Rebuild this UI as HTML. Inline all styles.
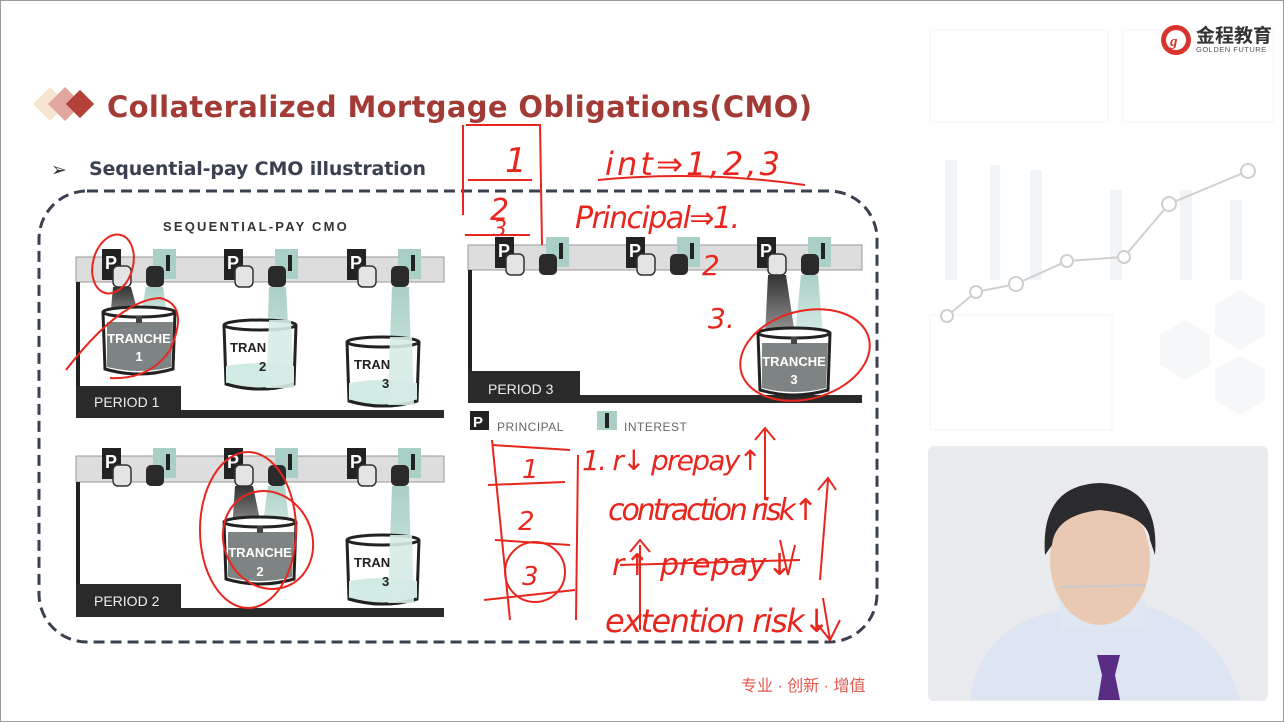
<!DOCTYPE html>
<html><head><meta charset="utf-8"><style>
html,body{margin:0;padding:0;background:#fff}
body{width:1284px;height:722px;overflow:hidden;position:relative;font-family:"Liberation Sans",sans-serif}
</style></head><body>
<svg width="1284" height="722" viewBox="0 0 1284 722" xmlns="http://www.w3.org/2000/svg" style="position:absolute;left:0;top:0">
<defs>
<linearGradient id="gbeam" x1="0" y1="0" x2="0" y2="1"><stop offset="0" stop-color="#333"/><stop offset="1" stop-color="#999"/></linearGradient>
<linearGradient id="tbeam" x1="0" y1="0" x2="0" y2="1"><stop offset="0" stop-color="#a9cfc6"/><stop offset="1" stop-color="#d6ebe6"/></linearGradient>
<g id="taps">
  <rect x="0" y="0" width="19" height="31" fill="#222"/>
  <text x="3" y="20" font-family="Liberation Sans" font-weight="bold" font-size="18" fill="#fff">P</text>
  <rect x="51" y="0" width="23" height="30" fill="#a9cfc6"/>
  <rect x="64" y="6" width="4" height="16" fill="#222"/>
  <rect x="11" y="17" width="18" height="21" rx="5" fill="#e4e4e4" stroke="#333" stroke-width="1.5"/>
  <rect x="44" y="17" width="18" height="21" rx="5" fill="#2a2a2a"/>
</g>
<g id="bempty">
  <path d="M0,5 L2,64 Q36,74 70,64 L72,5" fill="#fff" stroke="#222" stroke-width="3"/>
  <path d="M2,46 Q36,40 70,46 L70,64 Q36,73 2,64Z" fill="#d3ebe5"/>
  <ellipse cx="36" cy="5" rx="36" ry="5" fill="#fff" stroke="#222" stroke-width="3"/>
  <path d="M2,64 Q36,74 70,64" fill="none" stroke="#222" stroke-width="3"/>
</g>
<g id="bfull">
  <path d="M0,5 L2,62 Q36,72 70,62 L72,5" fill="#fff" stroke="#222" stroke-width="3"/>
  <path d="M4,15 L70,15 L68,60 Q36,68 4,60Z" fill="#7e8484"/>
  <ellipse cx="36" cy="5" rx="36" ry="5" fill="#fff" stroke="#222" stroke-width="3"/>
  <rect x="33" y="9" width="6" height="7" fill="#444"/>
</g>
</defs>

<rect x="0.5" y="0.5" width="1283" height="721" fill="none" stroke="#9a9a9a"/>

<g opacity="0.55">
  <rect x="930" y="30" width="178" height="92" fill="none" stroke="#eee"/>
  <rect x="1123" y="30" width="150" height="92" fill="none" stroke="#eee"/>
  <rect x="930" y="315" width="182" height="115" fill="none" stroke="#eee"/>
  <rect x="945" y="160" width="12" height="120" fill="#e6eef3"/>
  <rect x="990" y="165" width="10" height="115" fill="#e6eef3"/>
  <rect x="1030" y="170" width="12" height="110" fill="#e6eef3"/>
  <rect x="1110" y="190" width="12" height="90" fill="#e6eef3"/>
  <rect x="1180" y="190" width="12" height="90" fill="#e6eef3"/>
  <rect x="1230" y="200" width="12" height="80" fill="#e6eef3"/>
  <polygon points="1160,335 1185,320 1210,335 1210,365 1185,380 1160,365" fill="#eef2f4"/>
  <polygon points="1215,305 1240,290 1265,305 1265,335 1240,350 1215,335" fill="#eef2f4"/>
  <polygon points="1215,370 1240,355 1265,370 1265,400 1240,415 1215,400" fill="#eef2f4"/>
</g>
<polyline points="947,316 976,292 1016,284 1067,261 1124,257 1169,204 1248,171" fill="none" stroke="#d0d0d0" stroke-width="2"/>
<g fill="#fff" stroke="#cfcfcf" stroke-width="2">
<circle cx="947" cy="316" r="6"/><circle cx="976" cy="292" r="6"/><circle cx="1016" cy="284" r="7"/><circle cx="1067" cy="261" r="6"/><circle cx="1124" cy="257" r="6"/><circle cx="1169" cy="204" r="7"/><circle cx="1248" cy="171" r="7"/>
</g>

<circle cx="1176" cy="40" r="15" fill="#d9332c"/>
<circle cx="1176" cy="40" r="10" fill="#fff"/>
<text x="1170" y="46" font-size="15" font-style="italic" font-weight="bold" fill="#d9332c" font-family="Liberation Serif">g</text>
<text x="1196" y="42" font-family="Liberation Sans,Noto Sans CJK SC,sans-serif" font-weight="bold" font-size="19" fill="#333">金程教育</text>
<text x="1196" y="52" font-size="7.5" fill="#555" letter-spacing="0.5">GOLDEN FUTURE</text>

<rect x="38" y="92" width="24" height="24" fill="#f6e5d0" transform="rotate(45 50 104)"/>
<rect x="53" y="92" width="24" height="24" fill="#e2a79c" transform="rotate(45 65 104)"/>
<rect x="70" y="94" width="20" height="20" fill="#b4403a" transform="rotate(45 80 104)"/>
<text x="107" y="117" font-family="DejaVu Sans,sans-serif" font-weight="bold" font-size="29" fill="#a23a36" textLength="705">Collateralized Mortgage Obligations(CMO)</text>
<text x="51" y="176" font-size="19" fill="#333">➢</text>
<text x="89" y="175" font-family="DejaVu Sans,sans-serif" font-weight="bold" font-size="19" fill="#3a4050" textLength="337">Sequential-pay CMO illustration</text>

<rect x="39" y="191" width="838" height="451" rx="48" fill="none" stroke="#3a4050" stroke-width="3" stroke-dasharray="11,6"/>

<rect x="70" y="205" width="380" height="415" fill="#fff"/>
<text x="163" y="231" font-weight="bold" font-size="13" fill="#333" letter-spacing="2.2">SEQUENTIAL-PAY CMO</text>

<!-- Period 1 -->
<rect x="76" y="257" width="368" height="25" fill="#ddd" stroke="#999"/>
<rect x="76" y="282" width="4" height="130" fill="#222"/>
<rect x="76" y="410" width="368" height="8" fill="#2a2a2a"/>
<rect x="76" y="386" width="105" height="32" fill="#2a2a2a"/>
<text x="94" y="407" font-size="14" fill="#eee">PERIOD 1</text>
<polygon points="113,287 131,287 140,320 110,320" fill="url(#gbeam)"/>
<polygon points="146,287 163,287 168,320 140,320" fill="url(#tbeam)"/>
<polygon points="269,287 286,287 291,380 266,380" fill="url(#tbeam)"/>
<polygon points="392,287 409,287 412,395 388,395" fill="url(#tbeam)"/>
<use href="#bfull" x="103" y="307"/>
<text x="139" y="343" text-anchor="middle" font-weight="bold" font-size="13" fill="#fff">TRANCHE</text>
<text x="139" y="361" text-anchor="middle" font-weight="bold" font-size="13" fill="#fff">1</text>
<use href="#bempty" x="224" y="320"/>
<polygon points="269,320 291,320 294,388 266,388" fill="#d6ebe6" opacity="0.9"/>
<text x="230" y="352" font-weight="bold" font-size="13" fill="#222">TRAN</text>
<text x="259" y="371" font-weight="bold" font-size="13" fill="#222">2</text>
<use href="#bempty" x="347" y="337"/>
<polygon points="390,337 412,337 414,405 388,405" fill="#d6ebe6" opacity="0.9"/>
<text x="354" y="369" font-weight="bold" font-size="13" fill="#222">TRAN</text>
<text x="382" y="388" font-weight="bold" font-size="13" fill="#222">3</text>
<use href="#taps" x="102" y="249"/>
<use href="#taps" x="224" y="249"/>
<use href="#taps" x="347" y="249"/>

<!-- Period 2 -->
<rect x="76" y="456" width="368" height="26" fill="#ddd" stroke="#999"/>
<rect x="76" y="482" width="4" height="130" fill="#222"/>
<rect x="76" y="608" width="368" height="9" fill="#2a2a2a"/>
<rect x="76" y="584" width="105" height="33" fill="#2a2a2a"/>
<text x="94" y="606" font-size="14" fill="#eee">PERIOD 2</text>
<polygon points="235,486 253,486 262,530 232,530" fill="url(#gbeam)"/>
<polygon points="268,486 285,486 290,530 262,530" fill="url(#tbeam)"/>
<polygon points="392,486 409,486 412,600 388,600" fill="url(#tbeam)"/>
<use href="#bfull" x="224" y="517"/>
<text x="260" y="557" text-anchor="middle" font-weight="bold" font-size="13" fill="#fff">TRANCHE</text>
<text x="260" y="576" text-anchor="middle" font-weight="bold" font-size="13" fill="#fff">2</text>
<use href="#bempty" x="347" y="535"/>
<polygon points="390,535 412,535 414,603 388,603" fill="#d6ebe6" opacity="0.9"/>
<text x="354" y="567" font-weight="bold" font-size="13" fill="#222">TRAN</text>
<text x="382" y="586" font-weight="bold" font-size="13" fill="#222">3</text>
<use href="#taps" x="102" y="448"/>
<use href="#taps" x="224" y="448"/>
<use href="#taps" x="347" y="448"/>

<!-- Period 3 -->
<rect x="468" y="245" width="394" height="25" fill="#ddd" stroke="#999"/>
<rect x="468" y="270" width="4" height="130" fill="#222"/>
<rect x="468" y="395" width="394" height="8" fill="#2a2a2a"/>
<rect x="468" y="371" width="112" height="32" fill="#2a2a2a"/>
<text x="488" y="394" font-size="14" fill="#eee">PERIOD 3</text>
<polygon points="768,275 786,275 795,335 765,335" fill="url(#gbeam)"/>
<polygon points="801,275 818,275 823,335 795,335" fill="url(#tbeam)"/>
<use href="#bfull" x="758" y="328"/>
<text x="794" y="366" text-anchor="middle" font-weight="bold" font-size="13" fill="#fff">TRANCHE</text>
<text x="794" y="384" text-anchor="middle" font-weight="bold" font-size="13" fill="#fff">3</text>
<use href="#taps" x="495" y="237"/>
<use href="#taps" x="626" y="237"/>
<use href="#taps" x="757" y="237"/>

<rect x="470" y="411" width="19" height="19" fill="#222"/>
<text x="473" y="427" font-weight="bold" font-size="15" fill="#fff">P</text>
<text x="497" y="431" font-size="12" fill="#666" letter-spacing="0.5">PRINCIPAL</text>
<rect x="597" y="411" width="20" height="19" fill="#a9cfc6"/>
<rect x="605" y="413" width="4" height="15" fill="#222"/>
<text x="624" y="431" font-size="12" fill="#666" letter-spacing="0.5">INTEREST</text>

<!-- red annotations -->
<g fill="none" stroke="#e8261e" stroke-width="2">
  <ellipse cx="113" cy="264" rx="20" ry="30" transform="rotate(15 113 264)"/>
  <path d="M66,370 Q120,300 160,298 Q190,305 170,350 Q150,380 110,378"/>
  <ellipse cx="248" cy="530" rx="48" ry="78"/>
  <ellipse cx="268" cy="540" rx="44" ry="50" transform="rotate(-25 268 540)"/>
  <ellipse cx="805" cy="355" rx="66" ry="44" transform="rotate(-15 805 355)"/>
  <path d="M466,125 L540,125 L542,245 M463,125 L463,215 M468,180 L532,180 M465,235 L530,235"/>
  <path d="M598,180 Q700,170 805,185"/>
  <path d="M492,440 L510,620 M492,445 L570,450 M578,455 L576,620 M488,485 L565,482 M495,540 L570,545 M484,600 L575,590"/>
  <circle cx="535" cy="572" r="30"/>
  <path d="M765,430 L765,500 M755,440 L765,428 L775,440 M828,480 L820,580 M818,490 L828,478 L836,490 M620,565 L800,560 M640,545 L640,630 M630,552 L640,540 L650,552 M780,540 L788,575 L795,545 M823,598 L830,640 M818,625 L830,640 L840,620"/>
</g>
<g font-family="DejaVu Sans,sans-serif" fill="#e8261e" font-style="italic">
  <text x="505" y="172" font-size="34">1</text>
  <text x="490" y="220" font-size="30">2</text>
  <text x="493" y="236" font-size="22">3</text>
  <text x="605" y="175" font-size="32" textLength="175" font-weight="lighter">int⇒1,2,3</text>
  <text x="575" y="228" font-size="30" textLength="165">Principal⇒1.</text>
  <text x="702" y="275" font-size="28">2</text>
  <text x="708" y="328" font-size="28">3.</text>
  <text x="522" y="478" font-size="26">1</text>
  <text x="518" y="530" font-size="26">2</text>
  <text x="522" y="585" font-size="26">3</text>
  <text x="582" y="470" font-size="28" textLength="180">1. r↓ prepay↑</text>
  <text x="608" y="520" font-size="30" textLength="210">contraction risk↑</text>
  <text x="612" y="575" font-size="30" textLength="180">r↑ prepay↓</text>
  <text x="605" y="632" font-size="32" textLength="225">extention risk↓</text>
</g>

<text x="741" y="691" font-family="Liberation Sans,Noto Sans CJK SC,sans-serif" font-size="16" fill="#e4584e">专业 · 创新 · 增值</text>

<rect x="928" y="446" width="340" height="255" rx="6" fill="#e9ebee"/>
<path d="M970,700 Q980,625 1060,610 L1140,605 Q1220,625 1240,700Z" fill="#dde5f2"/>
<rect x="1060" y="600" width="85" height="30" fill="#dfe7f3"/>
<ellipse cx="1100" cy="560" rx="50" ry="65" fill="#e9c9b2"/>
<path d="M1045,555 Q1040,485 1100,483 Q1160,485 1155,555 L1150,540 Q1148,515 1100,510 Q1055,515 1052,545Z" fill="#2b2a2c"/>
<path d="M1060,587 L1145,585" stroke="#c9c9cf" stroke-width="2"/>
<path d="M1097,655 L1120,655 L1115,675 L1120,700 L1098,700 L1102,675Z" fill="#5a2d85"/>
</svg>
</body></html>
